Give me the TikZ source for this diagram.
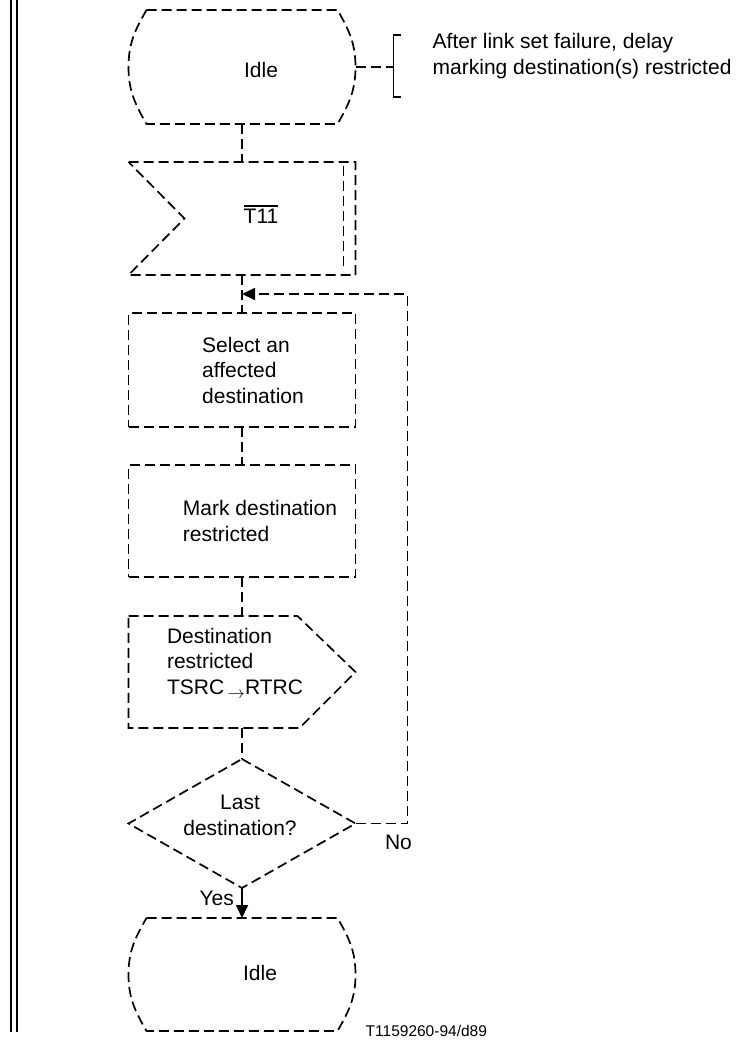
\documentclass[tikz,border=0pt]{standalone}
\usepackage{fontspec}
\setmainfont{Liberation Sans}
\usepackage{tikz}
\usetikzlibrary{arrows.meta,calc,positioning}
\newcommand{\stateshape}[1]{%
  \draw[dline] ($(#1.north west)+(18pt,0)$) -- ($(#1.north east)+(-18pt,0)$)
    to[out=-60,in=90] (#1.east) to[out=-90,in=60] ($(#1.south east)+(-18pt,0)$)
    -- ($(#1.south west)+(18pt,0)$) to[out=120,in=-90] (#1.west)
    to[out=90,in=-120] ($(#1.north west)+(18pt,0)$);}
\newcommand{\barred}[1]{\leavevmode\vbox{\hrule height 1.3pt\kern 2.5pt\hbox{#1}}}

\begin{document}
\begin{tikzpicture}[
  x=1pt, y=1pt,
  font=\fontsize{21}{25.5}\selectfont,
  dline/.style={line width=1.7pt, dash pattern=on 10pt off 5pt},
  shp/.style={minimum width=227pt, inner sep=0pt, outer sep=0pt},
  box/.style={shp, draw, dline},
  txt/.style={align=left, inner sep=0pt},
  arr/.style={-{Triangle[length=13pt,width=12pt]}, line width=1.7pt}
]
\useasboundingbox (0,0) rectangle (736,-1041);
% left margin rule
\draw[line width=2pt] (11,0) -- (11,-1032);
\draw[line width=2pt] (17,0) -- (17,-1032);
% shapes
\node[shp, minimum height=114pt] (idleA) at (242,-67) {};
\node[shp, minimum height=113pt, below=38pt of idleA] (tim) {};
\node[box, minimum height=114pt, below=38pt of tim] (sel) {};
\node[box, minimum height=112pt, below=38pt of sel] (mark) {};
\node[shp, minimum height=112pt, below=39pt of mark] (sig) {};
\node[shp, minimum height=129pt, below=31pt of sig] (last) {};
\node[shp, minimum height=113pt, below=30pt of last] (idleB) {};
\stateshape{idleA}
\stateshape{idleB}
\draw[dline] (tim.north west) -- (tim.north east) -- (tim.south east) -- (tim.south west)
  -- ($(tim.west)+(56pt,0)$) -- cycle;
\draw[dline] ($(tim.north east)+(-12pt,-4pt)$) -- ($(tim.south east)+(-12pt,4pt)$);
\draw[dline] (sig.north west) -- ($(sig.north east)+(-58pt,0)$) -- (sig.east)
  -- ($(sig.south east)+(-56pt,0)$) -- (sig.south west) -- cycle;
\draw[dline] (last.north) -- (last.east) -- (last.south) -- (last.west) -- cycle;
% texts
\node[txt, xshift=19pt, yshift=-3pt] (idleAtext) at (idleA) {Idle};
\node[txt, xshift=19pt, yshift=4pt] (timtext) at (tim) {\barred{T11}};
\node[txt, xshift=11pt] (seltext) at (sel) {Select an\\affected\\destination};
\node[txt, xshift=18pt] (marktext) at (mark) {Mark destination\\restricted};
\node[txt, xshift=-7pt, yshift=9pt] (sigtext) at (sig)
  {Destination\\restricted\\TSRC\,\raisebox{-4pt}{\fontsize{16}{16}\selectfont$\rightarrow$}RTRC};
\node[txt, align=center, xshift=-2pt, yshift=8pt] (lasttext) at (last) {Last\\destination?};
\node[txt, xshift=18pt, yshift=2pt] (idleBtext) at (idleB) {Idle};
% comment
\coordinate (brk) at ($(idleA.east)+(38pt,0)$);
\draw[dline] (idleA.east) -- (brk);
\draw[line width=1.7pt] ($(brk)+(7pt,32pt)$) -- ++(-7pt,0) -- ++(0,-62pt) -- ++(7pt,0);
\node[txt, anchor=west] (note) at ($(brk)+(39pt,11pt)$)
  {After link set failure, delay\\marking destination(s) restricted};
% connectors
\coordinate (join) at ($(tim.south)!0.5!(sel.north)$);
\draw[dline] (idleA.south) -- (tim.north);
\draw[dline] (tim.south) -- (sel.north);
\draw[dline] (sel.south) -- (mark.north);
\draw[dline] (mark.south) -- (sig.north);
\draw[dline] (sig.south) -- (last.north);
\draw[arr] (last.south) -- (idleB.north);
\draw[dline, -{Triangle[length=13pt,width=12pt]}] (last.east) -- ++(52pt,0) |- (join);
\node[txt, anchor=east] (yes) at ($(last.south)+(-8pt,-10pt)$) {Yes};
\node[txt] (no) at ($(last.east)+(43pt,-19pt)$) {No};
\node[txt, anchor=west, font=\fontsize{15.5}{18}\selectfont] (fig) at ($(idleB.south east)+(10pt,0)$) {T1159260-94/d89};
\end{tikzpicture}
\end{document}
